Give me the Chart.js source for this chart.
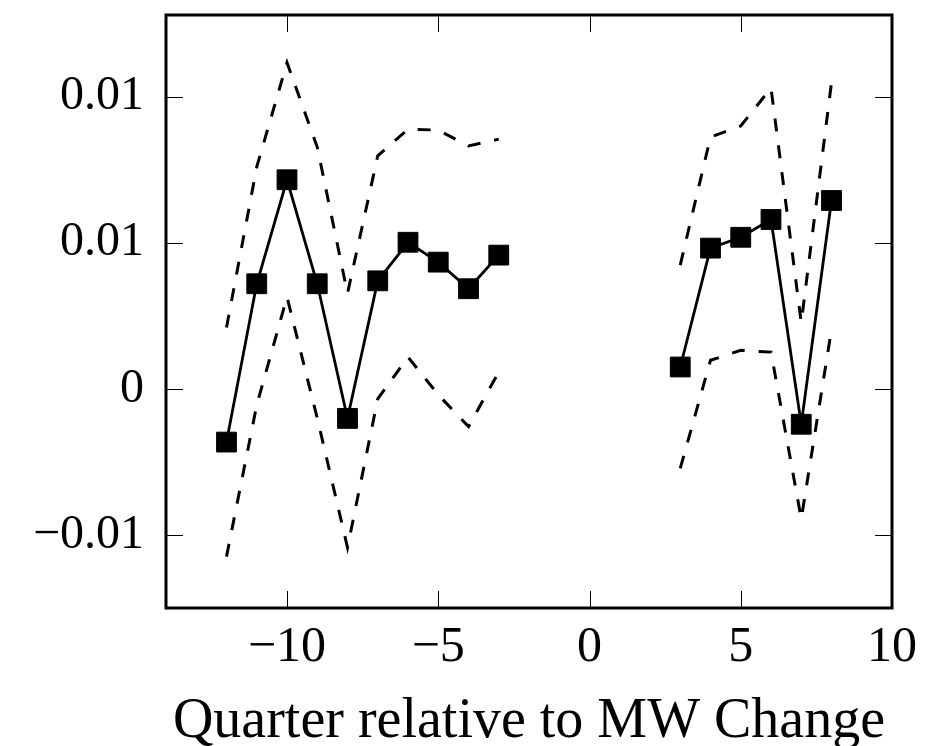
<!DOCTYPE html>
<html>
<head>
<meta charset="utf-8">
<script src="https://cdn.jsdelivr.net/npm/chart.js@4.4.0/dist/chart.umd.min.js"></script>
<style>
    html, body { margin: 0; padding: 0; background: #fff; }
    #wrap { width: 934px; height: 746px; position: relative; }
</style>
</head>
<body>
<div id="wrap"><canvas id="chart" width="934" height="746"></canvas></div>
<script>
// Event-study estimates
const quarters = [-12, -11, -10, -9, -8, -7, -6, -5, -4, -3, 3, 4, 5, 6, 7, 8];
const estimate = [-0.00182, 0.00360, 0.00716, 0.00360, -0.00101, 0.00370, 0.00502, 0.00434, 0.00343, 0.00458,
                  0.00075, 0.00482, 0.00519, 0.00580, -0.00121, 0.00645];
const upperCI = [0.00210, 0.00760, 0.01117, 0.00828, 0.00327, 0.00798, 0.00889, 0.00886, 0.00832, 0.00855,
                 0.00424, 0.00862, 0.00900, 0.01030, 0.00227, 0.01049];
const lowerCI = [-0.00574, -0.00055, 0.00315, -0.00100, -0.00543, -0.00034, 0.00109, -0.00020, -0.00129, 0.00058,
                 -0.00272, 0.00098, 0.00132, 0.00126, -0.00445, 0.00204];

const xTickValues = [-10, -5, 0, 5, 10];
const xTickLabels = ['\u221210', '\u22125', '0', '5', '10'];
const yTickValues = [-0.005, 0, 0.005, 0.01];
const yTickLabels = ['\u22120.01', '0', '0.01', '0.01'];

const SERIF = '"Liberation Serif", "DejaVu Serif", serif';

// build {x,y} points, with a null where the quarters skip (so the line breaks)
function toPoints(values) {
    const pts = [];
    quarters.forEach((q, i) => {
        if (i > 0 && q - quarters[i - 1] > 1) pts.push({ x: (q + quarters[i - 1]) / 2, y: null });
        pts.push({ x: q, y: values[i] });
    });
    return pts;
}

// frame + inward tick marks on all four sides
const framePlugin = {
    id: 'frame',
    afterDraw(chart) {
        const { ctx, chartArea: a, scales } = chart;
        const len = 17;
        ctx.save();
        ctx.strokeStyle = '#000';
        ctx.lineWidth = 1;
        ctx.beginPath();
        xTickValues.forEach(v => {
            const px = Math.round(scales.x.getPixelForValue(v)) + 0.5;
            ctx.moveTo(px, a.bottom); ctx.lineTo(px, a.bottom - len);
            ctx.moveTo(px, a.top); ctx.lineTo(px, a.top + len);
        });
        yTickValues.forEach(v => {
            const py = Math.round(scales.y.getPixelForValue(v)) + 0.5;
            ctx.moveTo(a.left, py); ctx.lineTo(a.left + len, py);
            ctx.moveTo(a.right, py); ctx.lineTo(a.right - len, py);
        });
        ctx.stroke();
        ctx.lineWidth = 3;
        ctx.strokeRect(a.left, a.top, a.right - a.left, a.bottom - a.top);
        ctx.restore();
    }
};

new Chart(document.getElementById('chart'), {
    type: 'line',
    data: {
        datasets: [
            {
                label: 'Upper',
                data: toPoints(upperCI),
                borderColor: '#000',
                borderWidth: 3,
                borderDash: [13, 14],
                pointRadius: 0,
                tension: 0,
                spanGaps: false
            },
            {
                label: 'Lower',
                data: toPoints(lowerCI),
                borderColor: '#000',
                borderWidth: 3,
                borderDash: [13, 14],
                pointRadius: 0,
                tension: 0,
                spanGaps: false
            },
            {
                label: 'Estimate',
                data: toPoints(estimate),
                borderColor: '#000',
                backgroundColor: '#000',
                borderWidth: 2.8,
                pointStyle: 'rect',
                pointRadius: 14,
                pointBorderWidth: 1,
                pointBackgroundColor: '#000',
                tension: 0,
                spanGaps: false
            }
        ]
    },
    options: {
        responsive: false,
        animation: false,
        devicePixelRatio: 1,
        layout: { padding: { top: 10, right: 42, left: 0, bottom: 0 } },
        plugins: {
            legend: { display: false },
            tooltip: { enabled: false }
        },
        scales: {
            x: {
                type: 'linear',
                min: -14,
                max: 10,
                grid: { display: false, drawTicks: false },
                border: { display: false },
                afterBuildTicks: s => { s.ticks = xTickValues.map(v => ({ value: v })); },
                afterFit: s => { s.height = 138; s.paddingLeft = 0; s.paddingRight = 0; },
                ticks: {
                    padding: 10,
                    color: '#000',
                    font: { family: SERIF, size: 50 },
                    maxRotation: 0,
                    autoSkip: false,
                    callback: v => xTickLabels[xTickValues.indexOf(v)]
                },
                title: {
                    display: true,
                    text: 'Quarter relative to MW Change',
                    color: '#000',
                    font: { family: SERIF, size: 56 },
                    padding: { top: 2, bottom: -10 }
                }
            },
            y: {
                type: 'linear',
                min: -0.0075,
                max: 0.0128,
                grid: { display: false, drawTicks: false },
                border: { display: false },
                afterBuildTicks: s => { s.ticks = yTickValues.map(v => ({ value: v })); },
                afterFit: s => { s.width = 166; s.paddingTop = 0; s.paddingBottom = 0; },
                ticks: {
                    padding: 22,
                    color: '#000',
                    font: { family: SERIF, size: 48 },
                    autoSkip: false,
                    callback: v => yTickLabels[yTickValues.indexOf(v)]
                }
            }
        }
    },
    plugins: [framePlugin]
});
</script>
</body>
</html>
